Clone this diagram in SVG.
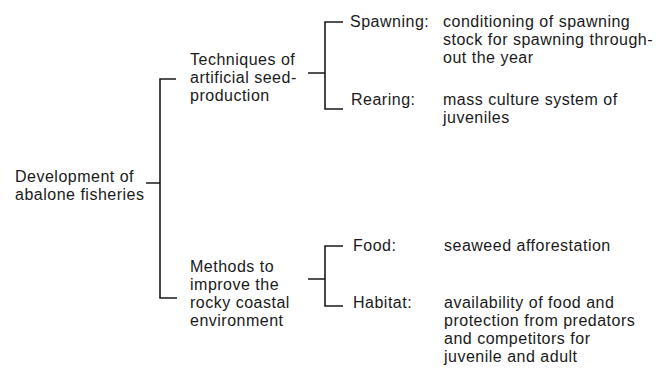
<svg xmlns="http://www.w3.org/2000/svg" width="659" height="369" viewBox="0 0 659 369">
<style>
text { font-family: "Liberation Sans", Arial, sans-serif; font-size: 16px; letter-spacing: 0.5px; fill: #1a1a1a; }
.c { fill: none; stroke: #1a1a1a; stroke-width: 1.6; }
</style>
<rect width="659" height="369" fill="#ffffff"/>
<g id="connectors">
  <path class="c" d="M146 183 H160 M176 79 H160 V298 H177"/>
  <path class="c" d="M308 73 H325 M343 22 H325 V109 H343"/>
  <path class="c" d="M308 279 H325 M343 246 H325 V306 H343"/>
</g>
<g id="root">
  <text x="15" y="182">Development of</text>
  <text x="15" y="200">abalone fisheries</text>
</g>
<g id="techniques">
  <text x="190" y="65">Techniques of</text>
  <text x="190" y="83">artificial seed-</text>
  <text x="190" y="101">production</text>
</g>
<g id="methods">
  <text x="190" y="272">Methods to</text>
  <text x="190" y="290">improve the</text>
  <text x="190" y="308">rocky coastal</text>
  <text x="190" y="326">environment</text>
</g>
<g id="spawning">
  <text x="350" y="27">Spawning:</text>
  <text x="443" y="27">conditioning of spawning</text>
  <text x="443" y="45">stock for spawning through-</text>
  <text x="443" y="63">out the year</text>
</g>
<g id="rearing">
  <text x="351" y="105">Rearing:</text>
  <text x="443" y="105">mass culture system of</text>
  <text x="443" y="123">juveniles</text>
</g>
<g id="food">
  <text x="353" y="251">Food:</text>
  <text x="444" y="251">seaweed afforestation</text>
</g>
<g id="habitat">
  <text x="353" y="308">Habitat:</text>
  <text x="444" y="308">availability of food and</text>
  <text x="444" y="326">protection from predators</text>
  <text x="444" y="344">and competitors for</text>
  <text x="444" y="362">juvenile and adult</text>
</g>
</svg>
